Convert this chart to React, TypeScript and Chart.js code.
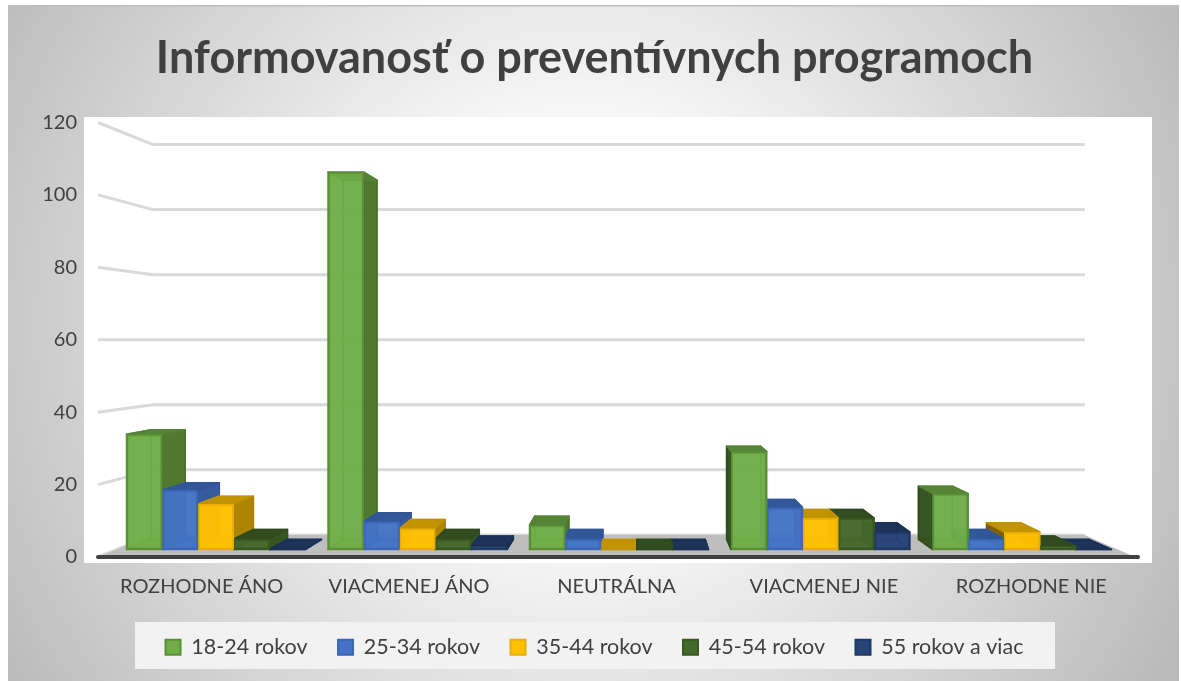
import React, { useEffect, useRef } from "react";
import { Chart, registerables } from "chart.js";

Chart.register(...registerables);

const categories = ["ROZHODNE ÁNO", "VIACMENEJ ÁNO", "NEUTRÁLNA", "VIACMENEJ NIE", "ROZHODNE NIE"];
const seriesNames = ["18-24 rokov", "25-34 rokov", "35-44 rokov", "45-54 rokov", "55 rokov a viac"];
const s18 = [33, 108, 7, 28, 16];
const s25 = [17, 8, 3, 12, 3];
const s35 = [13, 6, 0, 9, 5];
const s45 = [3, 3, 0, 9, 1];
const s55 = [0, 1, 0, 5, 0];
const seriesValues = [s18, s25, s35, s45, s55];
const yTicks = [0, 20, 40, 60, 80, 100, 120];

const fronts = ["rgba(112,173,71,0.86)", "rgba(68,114,196,0.86)", "rgba(255,192,0,0.86)", "rgba(67,104,43,0.86)", "rgba(38,68,120,0.86)"];
const legendFills = ["#70AD47", "#4472C4", "#FFC000", "#43682B", "#264478"];
const borders = ["#5A8F38", "#3A66B4", "#E8AE08", "#38581F", "#1F3864"];
const tops = ["#548235", "#2F5597", "#BF9000", "#2F4A1E", "#1B3055"];
const sidesR = ["#4A7229", "#2F5597", "#A67C00", "#33501F", "#1B3055"];
const sidesL = ["#2C4A1B", "#203864", "#6F5400", "#223A14", "#14264A"];

const TEXT = "#404040";
const VX = 640;
const VY = 339.6;
const WALL_K = 0.8985;
const BAR_R = 0.952;

const scene = {
  id: "scene",
  beforeDraw(chart: any) {
    const ctx = chart.ctx;
    ctx.save();
    ctx.fillStyle = "#fff";
    ctx.fillRect(0, 0, 1181, 681);
    const g = ctx.createRadialGradient(580, 325, 0, 580, 325, 680);
    g.addColorStop(0, "#ffffff");
    g.addColorStop(0.22, "#ffffff");
    g.addColorStop(1, "#bababa");
    ctx.fillStyle = g;
    ctx.fillRect(8, 6, 1171, 675);
    ctx.fillStyle = "#BDBDBD";
    ctx.fillRect(8, 5, 1171, 1.5);
    ctx.fillStyle = "#ffffff";
    ctx.fillRect(84, 117, 1068, 446);
    ctx.fillStyle = "#F2F2F2";
    ctx.fillRect(135, 622, 920, 47);
    ctx.restore();
  },
  beforeDatasetsDraw(chart: any) {
    const ctx = chart.ctx;
    const y = chart.scales.y;
    const left = chart.chartArea.left;
    const right = chart.chartArea.right;
    const wx = (x: number) => VX + (x - VX) * WALL_K;
    const wy = (v: number) => VY + (v - VY) * WALL_K;
    ctx.save();
    ctx.lineJoin = "round";
    // walls
    ctx.strokeStyle = "#D9D9D9";
    ctx.lineWidth = 3;
    y.ticks.forEach((t: any) => {
      const p = y.getPixelForValue(t.value);
      ctx.beginPath();
      ctx.moveTo(left, p);
      ctx.lineTo(wx(left), wy(p));
      ctx.lineTo(wx(right), wy(p));
      ctx.stroke();
    });
    // floor
    const p0 = y.getPixelForValue(0);
    ctx.fillStyle = "#BEBEBE";
    ctx.beginPath();
    ctx.moveTo(left, p0);
    ctx.lineTo(wx(left), wy(p0));
    ctx.lineTo(wx(right), wy(p0));
    ctx.lineTo(right, p0);
    ctx.closePath();
    ctx.fill();
    ctx.strokeStyle = TEXT;
    ctx.lineWidth = 4;
    ctx.lineCap = "round";
    ctx.beginPath();
    ctx.moveTo(left, p0);
    ctx.lineTo(right + 3, p0);
    ctx.stroke();
    ctx.lineCap = "butt";

    // box faces behind the library's front faces
    const bx = (x: number) => VX + (x - VX) * BAR_R;
    const by = (v: number) => VY + (v - VY) * BAR_R;
    const boxes: any[] = [];
    chart.data.datasets.forEach((_: any, di: number) => {
      chart.getDatasetMeta(di).data.forEach((el: any) => {
        boxes.push({ di, L: el.x - el.width / 2, R: el.x + el.width / 2, T: el.y, B: el.base, x: el.x });
      });
    });
    boxes.sort((a, b) => Math.abs(b.x - VX) - Math.abs(a.x - VX));
    const quad = (pts: number[][], fill: string, stroke: string) => {
      ctx.beginPath();
      pts.forEach((p, i) => (i ? ctx.lineTo(p[0], p[1]) : ctx.moveTo(p[0], p[1])));
      ctx.closePath();
      ctx.fillStyle = fill;
      ctx.fill();
      ctx.strokeStyle = stroke;
      ctx.lineWidth = 1.5;
      ctx.stroke();
    };
    boxes.forEach((b) => {
      const { di, L, R, T, B, x } = b;
      const leftPart = x < VX;
      const innerX = leftPart ? L : R;
      const outerX = leftPart ? R : L;
      ctx.globalAlpha = 0.9;
      quad([[bx(L), by(T)], [bx(R), by(T)], [bx(R), by(B)], [bx(L), by(B)]], fronts[di], borders[di]);
      quad([[L, B], [R, B], [bx(R), by(B)], [bx(L), by(B)]], fronts[di], borders[di]);
      quad([[innerX, T], [bx(innerX), by(T)], [bx(innerX), by(B)], [innerX, B]], fronts[di], borders[di]);
      const side = leftPart ? sidesR[di] : sidesL[di];
      quad([[outerX, T], [bx(outerX), by(T)], [bx(outerX), by(B)], [outerX, B]], side, side);
      ctx.globalAlpha = 0.95;
      quad([[L, T], [R, T], [bx(R), by(T)], [bx(L), by(T)]], tops[di], tops[di]);
      ctx.globalAlpha = 1;
    });
    ctx.restore();
  },
};

export default function App() {
  const ref = useRef<HTMLCanvasElement | null>(null);
  useEffect(() => {
    if (!ref.current) return;
    const chart = new Chart(ref.current, {
      type: "bar",
      data: {
        labels: categories,
        datasets: seriesNames.map((name, i) => ({
          label: name,
          data: seriesValues[i].map((v, c) => ({ x: c, y: v })),
          backgroundColor: fronts[i],
          borderColor: borders[i],
          borderWidth: 2,
          borderSkipped: false,
          barThickness: 35.8,
          xAxisID: "xBar",
          yAxisID: "yBar",
        })),
      },
      options: {
        responsive: false,
        animation: false,
        layout: { padding: { left: 8, right: 0, top: 0, bottom: 13 } },
        plugins: {
          tooltip: { enabled: false },
          title: {
            display: true,
            text: "Informovanosť o preventívnych programoch",
            color: TEXT,
            font: { family: "Lato", weight: "bold", size: 45, lineHeight: 1.2 },
            padding: { top: 31, bottom: 37.5 },
          },
          legend: {
            display: true,
            position: "bottom",
            labels: {
              color: TEXT,
              font: { family: "Lato", size: 21.5 },
              boxWidth: 15,
              boxHeight: 15,
              padding: 30.5,
              generateLabels: (c: any) =>
                Chart.defaults.plugins.legend.labels
                  .generateLabels(c)
                  .map((item: any, i: number) => ({ ...item, fillStyle: legendFills[i] })),
            },
          },
        },
        scales: {
          y: {
            axis: "y",
            position: "left",
            min: 0,
            max: 120,
            afterBuildTicks: (s: any) => {
              s.ticks = yTicks.map((value) => ({ value }));
            },
            afterFit: (s: any) => {
              s.width = 90;
            },
            grid: { display: false, drawTicks: false },
            border: { display: false },
            ticks: { color: TEXT, font: { family: "Lato", size: 20 }, padding: 21 },
          },
          yBar: {
            axis: "y",
            display: false,
            min: -2.15,
            max: 122.2,
          },
          yRight: {
            axis: "y",
            position: "right",
            grid: { display: false, drawTicks: false },
            border: { display: false },
            ticks: { display: false },
            afterFit: (s: any) => {
              s.width = 46;
            },
          },
          x: {
            axis: "x",
            type: "category",
            position: "bottom",
            afterFit: (s: any) => {
              s.height = 49;
            },
            grid: { display: false, drawTicks: false },
            border: { display: false },
            ticks: {
              color: TEXT,
              font: { family: "Lato", size: 20 },
              padding: 18,
              autoSkip: false,
              maxRotation: 0,
            },
          },
          xBar: {
            axis: "x",
            type: "linear",
            display: false,
            offset: false,
            min: -0.5856,
            max: 4.561,
          },
        },
      } as any,
      plugins: [scene],
    } as any);
    return () => chart.destroy();
  }, []);
  return (
    <canvas
      ref={ref}
      width={1181}
      height={681}
      style={{ position: "fixed", left: 0, top: 0, width: 1181, height: 681, display: "block" }}
    />
  );
}
